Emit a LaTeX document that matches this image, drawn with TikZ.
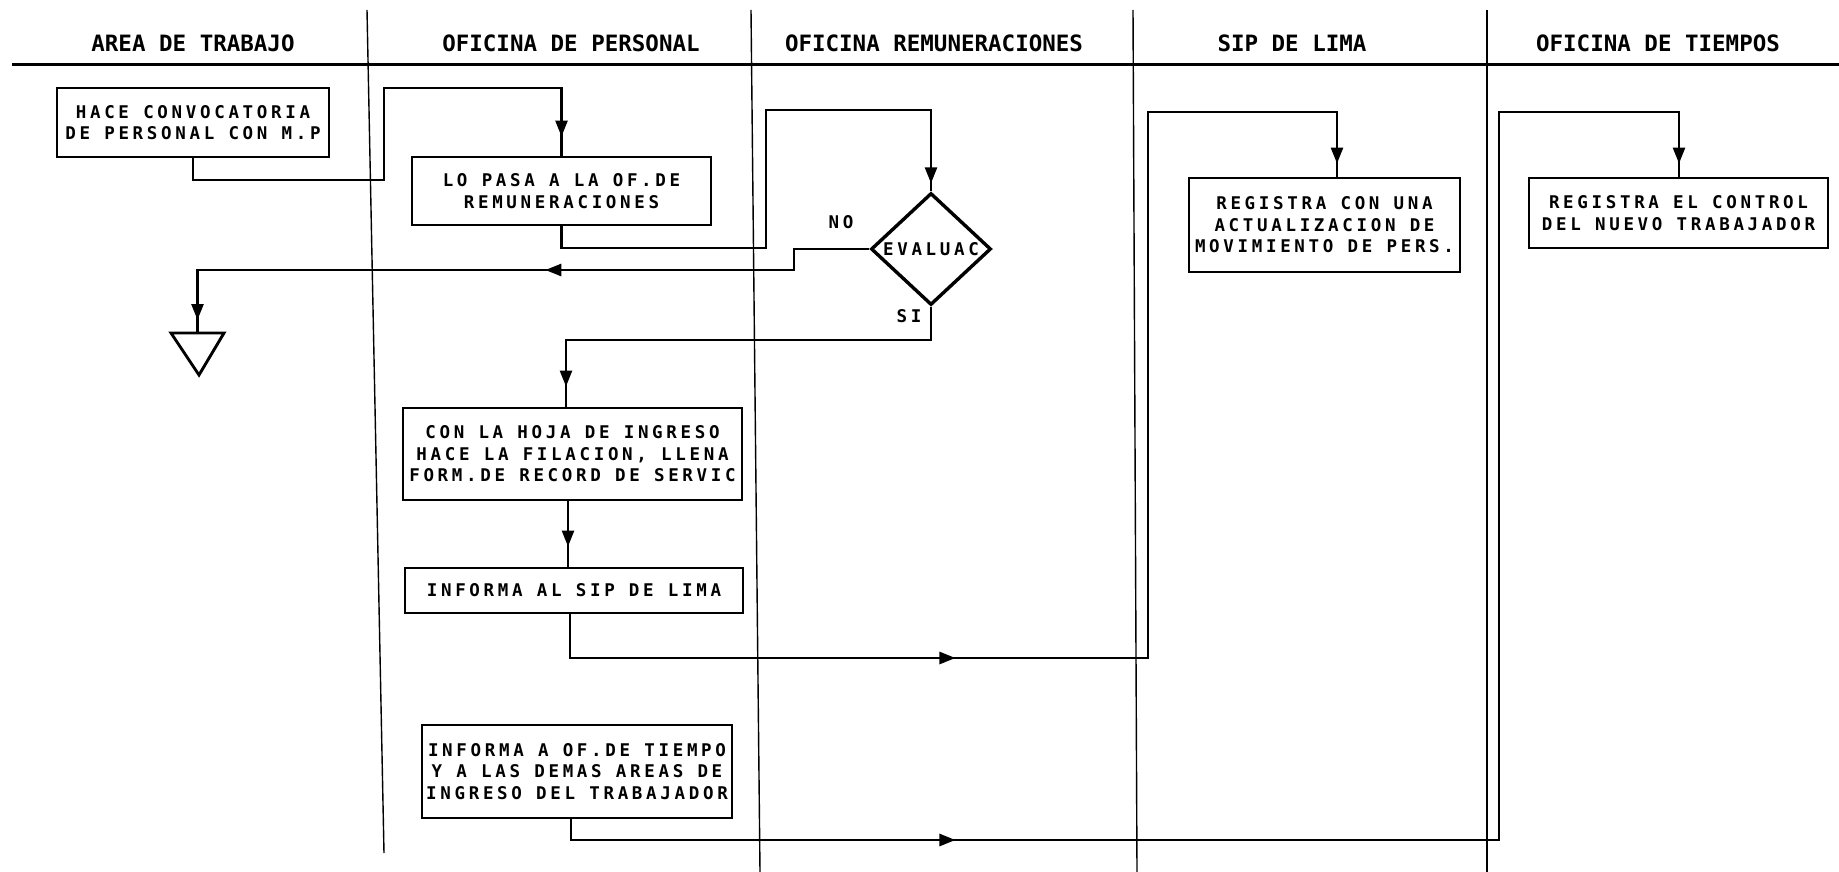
\documentclass[tikz,border=0pt]{standalone}
\usepackage{fontspec}
\newfontfamily\plotfont[LetterSpace=21]{DejaVu Sans Mono}
\newfontfamily\headfont{DejaVu Sans Mono}
\usetikzlibrary{shapes.geometric,decorations.markings,arrows.meta}
\tikzset{
  box/.style={draw, line width=2.9pt, inner sep=0pt, align=center,
    font=\plotfont\bfseries\fontsize{17.5}{21.5}\selectfont},
  conn/.style={line width=2.6pt},
  lane/.style={line width=1.4pt},
  head/.style={font=\headfont\bfseries\fontsize{22.5}{26}\selectfont, anchor=base, inner sep=0pt},
  lbl/.style={font=\plotfont\bfseries\fontsize{17.5}{21}\selectfont, inner sep=0pt},
  mids/.style={postaction={decorate, decoration={markings, #1}}},
}
\begin{document}
\begin{tikzpicture}[x=1pt, y=-1pt, >={Triangle[length=16pt,width=12pt]}]
\useasboundingbox (0,0) rectangle (1839,872);

% swimlane frame
\draw[line width=3pt] (12,65) -- (1839,65);
\draw[lane] (367,10) -- (384,853);
\draw[lane] (751,10) -- (760,872);
\draw[lane] (1133,10) -- (1137,872);
\draw[lane] (1487,10) -- (1487,872);

% headers
\node[head] (h1) at (193,52) {AREA DE TRABAJO};
\node[head] (h2) at (571,52) {OFICINA DE PERSONAL};
\node[head] (h3) at (934,52) {OFICINA REMUNERACIONES};
\node[head] (h4) at (1292,52) {SIP DE LIMA};
\node[head] (h5) at (1658,52) {OFICINA DE TIEMPOS};

% boxes
\node[box, minimum width=272pt, minimum height=69pt] (B1) at (193,122.5)
  {HACE CONVOCATORIA\\DE PERSONAL CON M.P};
\node[box, minimum width=299pt, minimum height=68pt] (B2) at (561.5,191)
  {LO PASA A LA OF.DE\\REMUNERACIONES};
\node[box, diamond, line width=3.4pt, minimum width=120pt, minimum height=112pt] (D) at (931,249)
  {EVALUAC};
\node[box, minimum width=339pt, minimum height=92pt] (B3) at (572.5,454)
  {CON LA HOJA DE INGRESO\\HACE LA FILACION, LLENA\\FORM.DE RECORD DE SERVIC};
\node[box, minimum width=338pt, minimum height=45pt] (B4) at (574,590.5)
  {INFORMA AL SIP DE LIMA};
\node[box, minimum width=271pt, minimum height=94pt] (B5) at (1324.5,225)
  {REGISTRA CON UNA\\ACTUALIZACION DE\\MOVIMIENTO DE PERS.};
\node[box, minimum width=299pt, minimum height=70pt] (B6) at (1678.5,213)
  {REGISTRA EL CONTROL\\DEL NUEVO TRABAJADOR};
\node[box, minimum width=310pt, minimum height=93pt] (B7) at (577,771.5)
  {INFORMA A OF.DE TIEMPO\\Y A LAS DEMAS AREAS DE\\INGRESO DEL TRABAJADOR};

% end triangle
\coordinate (T) at (197.5,333);
\draw[line width=2.9pt, line join=miter] (T) ++(-26.5,0) -- ++(53,0) -- ++(-25,42) -- cycle;

% labels
\node[lbl] (no) at (841,222) {NO};
\node[lbl] (si) at (909,316) {SI};

% corner coordinates
\coordinate (c1a) at (384,180);
\coordinate (c1b) at (561.5,88);
\coordinate (c2a) at (766,248);
\coordinate (c2b) at (931,110);
\coordinate (c3a) at (794,249);
\coordinate (c3b) at (197.5,270);
\coordinate (c4a) at (566,340);
\coordinate (x568) at (568,0);
\coordinate (x570) at (570,0);
\coordinate (c5a) at (1148,658);
\coordinate (c5b) at (1337,112);
\coordinate (x571) at (571,0);
\coordinate (c6a) at (1499,840);
\coordinate (c6b) at (1679,112);

% connectors
\draw[conn, mids={mark=at position -19pt with {\arrow{>}}}]
  (B1.south) |- (c1a) |- (c1b) -- (B2.north);
\draw[conn, mids={mark=at position -8pt with {\arrow{>}}}]
  (B2.south) |- (c2a) |- (c2b) -- (D.north);
\draw[conn, mids={mark=at position 345pt with {\arrow{>}}, mark=at position -13pt with {\arrow{>}}}]
  (D.west) -- (c3a) |- (c3b) -- (T);
\draw[conn, mids={mark=at position -20pt with {\arrow{>}}}]
  (D.south) |- (c4a) -- (B3.north -| c4a);
\draw[conn, mids={mark=at position -20pt with {\arrow{>}}}]
  (B3.south -| x568) -- (B4.north -| x568);
\draw[conn, mids={mark=at position 429pt with {\arrow{>}}, mark=at position -13pt with {\arrow{>}}}]
  (B4.south -| x570) |- (c5a) |- (c5b) -- (B5.north -| c5b);
\draw[conn, mids={mark=at position 405pt with {\arrow{>}}, mark=at position -13pt with {\arrow{>}}}]
  (B7.south -| x571) |- (c6a) |- (c6b) -- (B6.north -| c6b);
\end{tikzpicture}
\end{document}
